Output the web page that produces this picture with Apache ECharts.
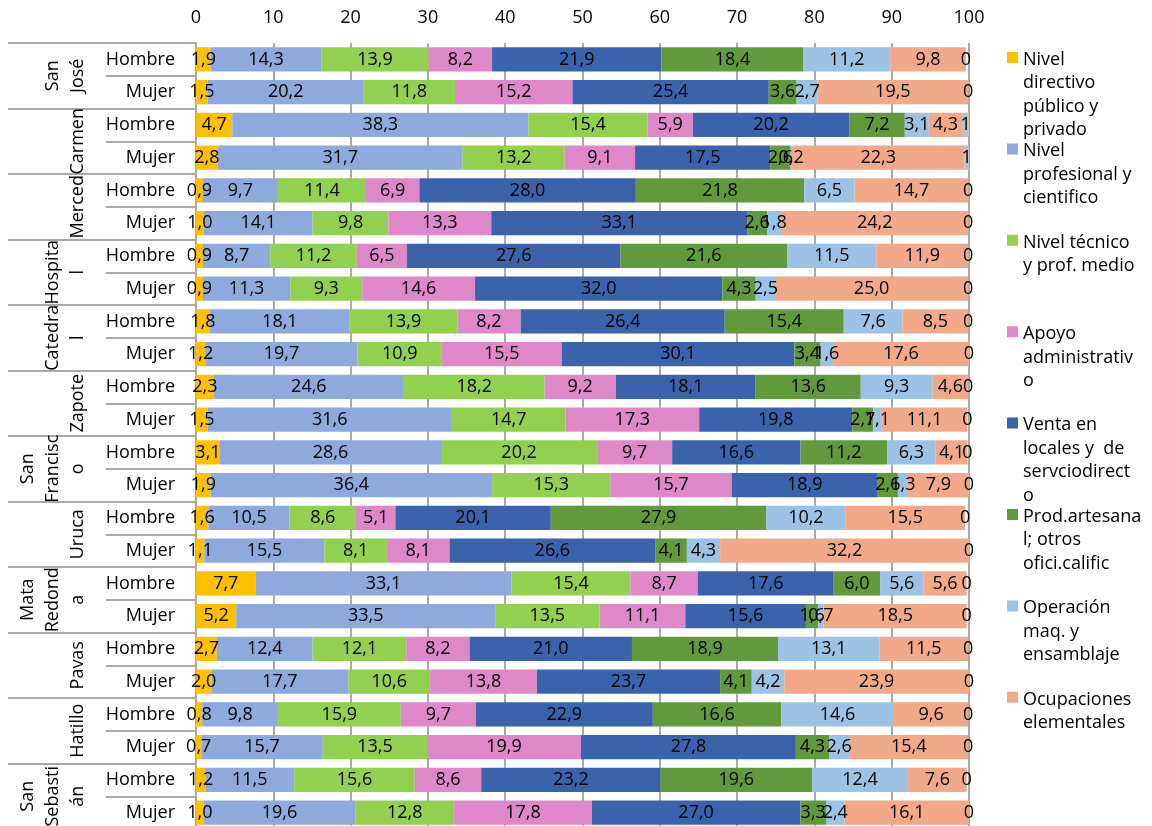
<!DOCTYPE html>
<html>
<head>
<meta charset="utf-8">
<script src="https://cdn.jsdelivr.net/npm/echarts@6/dist/echarts.min.js"></script>
<style>
  html, body { margin: 0; padding: 0; background: #ffffff; }
  #chart { width: 1152px; height: 826px; }
</style>
</head>
<body>
<div id="chart"></div>
<script>
// Distritos y sexo (una fila por combinación, de arriba hacia abajo)
const districts = ['San José', 'Carmen', 'Merced', 'Hospital', 'Catedral', 'Zapote',
  'San Francisco', 'Uruca', 'Mata Redonda', 'Pavas', 'Hatillo', 'San Sebastián'];
const sexes = ['Hombre', 'Mujer'];

// Grupos ocupacionales
const occupations = [
  'Nivel directivo público y privado',
  'Nivel profesional y cientifico',
  'Nivel técnico y prof. medio',
  'Apoyo administrativo',
  'Venta en locales y  de servciodirecto',
  'Prod.artesanal; otros ofici.califiic',
  'Operación maq. y ensamblaje',
  'Ocupaciones elementales'
];
const otherName = 'No especificado';

// Porcentajes por fila (SJ-H, SJ-M, Carmen-H, Carmen-M, ...)
const directivo   = [1.9, 1.5, 4.7, 2.8, 0.9, 1.0, 0.9, 0.9, 1.8, 1.2, 2.3, 1.5, 3.1, 1.9, 1.6, 1.1, 7.7, 5.2, 2.7, 2.0, 0.8, 0.7, 1.2, 1.0];
const profesional = [14.3, 20.2, 38.3, 31.7, 9.7, 14.1, 8.7, 11.3, 18.1, 19.7, 24.6, 31.6, 28.6, 36.4, 10.5, 15.5, 33.1, 33.5, 12.4, 17.7, 9.8, 15.7, 11.5, 19.6];
const tecnico     = [13.9, 11.8, 15.4, 13.2, 11.4, 9.8, 11.2, 9.3, 13.9, 10.9, 18.2, 14.7, 20.2, 15.3, 8.6, 8.1, 15.4, 13.5, 12.1, 10.6, 15.9, 13.5, 15.6, 12.8];
const apoyo       = [8.2, 15.2, 5.9, 9.1, 6.9, 13.3, 6.5, 14.6, 8.2, 15.5, 9.2, 17.3, 9.7, 15.7, 5.1, 8.1, 8.7, 11.1, 8.2, 13.8, 9.7, 19.9, 8.6, 17.8];
const venta       = [21.9, 25.4, 20.2, 17.5, 28.0, 33.1, 27.6, 32.0, 26.4, 30.1, 18.1, 19.8, 16.6, 18.9, 20.1, 26.6, 17.6, 15.6, 21.0, 23.7, 22.9, 27.8, 23.2, 27.0];
const artesanal   = [18.4, 3.6, 7.2, 2.6, 21.8, 2.6, 21.6, 4.3, 15.4, 3.4, 13.6, 2.7, 11.2, 2.6, 27.9, 4.1, 6.0, 1.6, 18.9, 4.1, 16.6, 4.3, 19.6, 3.3];
const operacion   = [11.2, 2.7, 3.1, 0.2, 6.5, 1.8, 11.5, 2.5, 7.6, 1.6, 9.3, 1.1, 6.3, 1.3, 10.2, 4.3, 5.6, 0.7, 13.1, 4.2, 14.6, 2.6, 12.4, 2.4];
const elementales = [9.8, 19.5, 4.3, 22.3, 14.7, 24.2, 11.9, 25.0, 8.5, 17.6, 4.6, 11.1, 4.1, 7.9, 15.5, 32.2, 5.6, 18.5, 11.5, 23.9, 9.6, 15.4, 7.6, 16.1];
const noEspecif   = [0, 0, 1, 1, 0, 0, 0, 0, 0, 0, 0, 0, 0, 0, 0, 0, 0, 0, 0, 0, 0, 0, 0, 0];

// Marcas del eje de porcentaje
const xTicks = { min: 0, max: 100, step: 10 };

const seriesValues = [directivo, profesional, tecnico, apoyo, venta, artesanal, operacion, elementales];
const colors = ['#FFC000', '#8EA9DB', '#92D050', '#DF88C9', '#3B63AC', '#609A3D', '#9CC2E5', '#F2A98A'];
const otherColor = '#BFBFBF';

// Texto partido en renglones como se muestra en las etiquetas
const districtWrapped = {
  'San José': 'San\nJosé',
  'Hospital': 'Hospita\nl',
  'Catedral': 'Catedra\nl',
  'San Francisco': 'San\nFrancisc\no',
  'Mata Redonda': 'Mata\nRedond\na',
  'San Sebastián': 'San\nSebasti\nán'
};
const legendWrapped = {
  'Nivel directivo público y privado': ['Nivel', 'directivo', 'público y', 'privado'],
  'Nivel profesional y cientifico': ['Nivel', 'profesional y', 'cientifico'],
  'Nivel técnico y prof. medio': ['Nivel técnico', 'y prof. medio'],
  'Apoyo administrativo': ['Apoyo', 'administrativ', 'o'],
  'Venta en locales y  de servciodirecto': ['Venta en', 'locales y  de', 'servciodirect', 'o'],
  'Prod.artesanal; otros ofici.califiic': ['Prod.artesana', 'l; otros', 'ofici.calific'],
  'Operación maq. y ensamblaje': ['Operación', 'maq. y', 'ensamblaje'],
  'Ocupaciones elementales': ['Ocupaciones', 'elementales']
};

const FONT = 'Open Sans';
const GRID_COLOR = '#A9A9A9';

const rowKeys = [];
districts.forEach(d => sexes.forEach(s => rowKeys.push(d + '|' + s)));

const fmtPct = v => v.toFixed(1).replace('.', ',');

const series = occupations.map((name, i) => ({
  name: name,
  type: 'bar',
  stack: 'total',
  yAxisIndex: 0,
  barCategoryGap: '26%',
  data: seriesValues[i],
  itemStyle: { color: colors[i], borderWidth: 0 },
  label: {
    show: true,
    position: 'inside',
    formatter: p => fmtPct(p.value),
    color: '#000',
    fontFamily: FONT,
    fontSize: 18,
    textBorderWidth: 0
  },
  emphasis: { disabled: true }
}));
series.push({
  name: otherName,
  type: 'bar',
  stack: 'total',
  yAxisIndex: 0,
  barCategoryGap: '26%',
  data: noEspecif,
  itemStyle: { color: otherColor, borderWidth: 0 },
  label: {
    show: true,
    position: 'inside',
    formatter: p => String(Math.round(p.value)),
    color: '#000',
    fontFamily: FONT,
    fontSize: 18,
    textBorderWidth: 0
  },
  emphasis: { disabled: true }
});

const chart = echarts.init(document.getElementById('chart'), null, { renderer: 'canvas' });

chart.setOption({
  animation: false,
  backgroundColor: '#ffffff',
  textStyle: { fontFamily: FONT },
  grid: {
    left: 196, top: 43, width: 773, height: 786,
    containLabel: false, outerBoundsMode: 'none'
  },
  xAxis: {
    type: 'value',
    position: 'top',
    min: xTicks.min, max: xTicks.max, interval: xTicks.step,
    axisLine: { show: false },
    axisTick: { show: false },
    axisLabel: { color: '#000', fontFamily: FONT, fontSize: 18, margin: 16 },
    splitLine: { show: true, lineStyle: { color: GRID_COLOR, width: 2 } }
  },
  yAxis: [
    {
      type: 'category',
      position: 'left',
      inverse: true,
      data: rowKeys,
      axisLine: { show: true, lineStyle: { color: GRID_COLOR, width: 2 } },
      axisTick: { show: true, length: 90, lineStyle: { color: GRID_COLOR, width: 2 } },
      axisLabel: {
        interval: 0, margin: 21, color: '#000', fontFamily: FONT, fontSize: 18,
        formatter: v => v.split('|')[1]
      },
      splitLine: { show: false }
    },
    {
      type: 'category',
      position: 'left',
      inverse: true,
      data: districts,
      axisLine: { show: true, lineStyle: { color: GRID_COLOR, width: 2 } },
      axisTick: { show: true, length: 188, lineStyle: { color: GRID_COLOR, width: 2 } },
      axisLabel: {
        interval: 0, rotate: 90, margin: 106, color: '#000', fontFamily: FONT,
        fontSize: 18, lineHeight: 25,
        formatter: v => districtWrapped[v] || v
      },
      splitLine: { show: false }
    }
  ],
  legend: {
    orient: 'vertical',
    left: 1007,
    top: 48,
    padding: 0,
    itemWidth: 11,
    itemHeight: 94,
    itemGap: 91.4 - 94,
    icon: 'path://M0 0h11v0z M0 4h11v11h-11z M0 94h11v0z',
    data: occupations,
    selectedMode: false,
    formatter: name => {
      const lines = (legendWrapped[name] || [name]).slice();
      while (lines.length < 4) lines.push(' ');
      return lines.join('\n');
    },
    textStyle: { color: '#000', fontFamily: FONT, fontSize: 18, lineHeight: 23.5 }
  },
  series: series
});
</script>
</body>
</html>
